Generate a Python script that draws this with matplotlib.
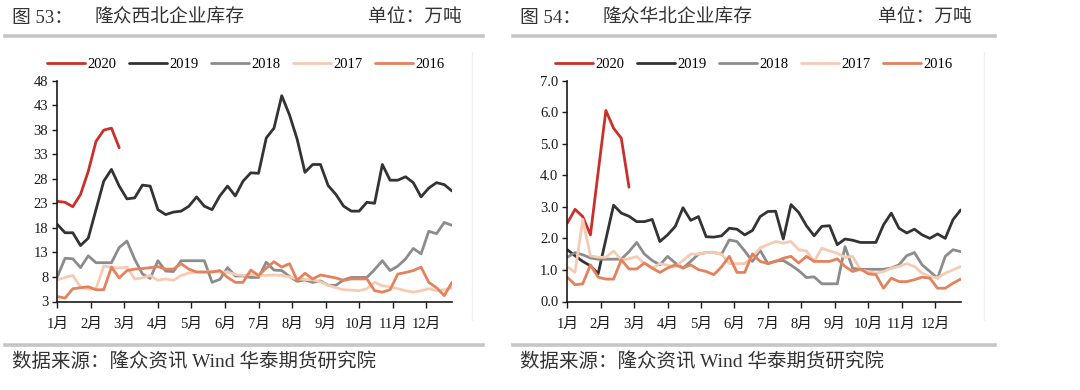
import numpy as np
import matplotlib
matplotlib.use('Agg')
import matplotlib.pyplot as plt
from matplotlib.lines import Line2D

plt.rcParams['font.family'] = ['Liberation Serif', 'Noto Sans CJK SC']

years = ['2020', '2019', '2018', '2017', '2016']
colors = ['#C9302C', '#333333', '#8C8C8C', '#F6CBB4', '#E3825C']
months = [f'{m}月' for m in range(1, 13)]

# 隆众西北企业库存 (万吨), weekly
xb_2020 = [23.4, 23.2, 22.3, 24.8, 29.5, 35.6, 37.9, 38.3, 34.3]
xb_2019 = [18.7, 17.0, 17.0, 14.4, 15.9, 21.7, 27.5, 29.9, 26.5, 23.9,
           24.1, 26.7, 26.5, 21.7, 20.7, 21.2, 21.4, 22.4, 24.3, 22.4,
           21.7, 24.5, 26.5, 24.5, 27.5, 29.2, 29.1, 36.3, 38.3, 44.9,
           41.0, 36.0, 29.3, 30.9, 30.9, 26.6, 24.8, 22.4, 21.4, 21.4,
           23.2, 23.0, 30.9, 27.7, 27.7, 28.4, 27.2, 24.3, 26.1, 27.2,
           26.8, 25.5]
xb_2018 = [8.0, 11.8, 11.7, 9.9, 12.3, 10.9, 10.9, 10.9, 14.0, 15.3,
           11.6, 8.6, 7.7, 11.3, 9.2, 9.1, 11.3, 11.3, 11.3, 11.3,
           6.9, 7.5, 9.9, 8.2, 8.2, 7.9, 7.9, 11.0, 9.4, 9.3,
           8.1, 7.1, 7.4, 6.9, 7.2, 6.3, 6.3, 7.4, 7.9, 7.9,
           7.9, 9.5, 11.3, 9.3, 10.2, 11.7, 13.8, 12.7, 17.3, 16.8,
           19.1, 18.5]
xb_2017 = [7.4, 7.9, 8.3, 6.0, 5.5, 5.6, 10.2, 10.0, 9.8, 10.0,
           7.6, 7.8, 8.3, 7.3, 7.6, 7.3, 8.3, 8.8, 9.0, 9.0,
           9.2, 9.0, 9.0, 8.5, 8.3, 8.5, 8.3, 8.3, 8.4, 8.3,
           8.0, 7.6, 7.5, 7.4, 7.0, 6.3, 5.8, 5.4, 5.3, 5.2,
           5.6, 6.9, 6.2, 6.0, 5.6, 5.2, 4.9, 5.2, 5.6, 5.2,
           5.4, 5.8]
xb_2016 = [4.0, 3.7, 5.6, 5.8, 6.0, 5.4, 5.4, 10.0, 7.8, 9.3,
           9.6, 9.7, 9.9, 10.1, 9.6, 9.6, 10.7, 9.6, 9.0, 9.0,
           9.0, 9.3, 7.9, 6.9, 6.9, 9.4, 8.3, 9.8, 11.1, 10.0,
           10.7, 7.3, 8.75, 7.6, 8.4, 8.1, 7.8, 7.3, 7.6, 7.6,
           7.6, 5.2, 4.9, 5.4, 8.6, 8.9, 9.3, 10.0, 6.9, 5.8,
           4.2, 6.9]

# 隆众华北企业库存 (万吨), weekly
hb_2020 = [2.48, 2.92, 2.69, 2.11, 4.1, 6.05, 5.49, 5.17, 3.62]
hb_2019 = [1.64, 1.45, 1.27, 1.13, 0.88, 1.97, 3.05, 2.8, 2.7, 2.53,
           2.53, 2.6, 1.9, 2.11, 2.38, 2.97, 2.57, 2.69, 2.05, 2.04,
           2.08, 2.32, 2.29, 2.11, 2.25, 2.69, 2.85, 2.86, 1.98, 3.07,
           2.82, 2.4, 2.08, 2.38, 2.4, 1.8, 1.98, 1.94, 1.87, 1.87,
           1.87, 2.43, 2.8, 2.32, 2.17, 2.29, 2.11, 2.0, 2.14, 2.0,
           2.59, 2.9]
hb_2018 = [1.4, 1.55, 1.48, 1.38, 1.34, 1.34, 1.34, 1.34, 1.58, 1.87,
           1.5, 1.3, 1.16, 1.43, 1.22, 1.06, 1.27, 1.5, 1.55, 1.55,
           1.5, 1.95, 1.9, 1.6, 1.27, 1.62, 1.2, 1.28, 1.3, 1.15,
           0.98, 0.76, 0.78, 0.56, 0.56, 0.56, 1.74, 1.05, 1.02, 1.02,
           1.02, 1.02, 1.06, 1.16, 1.45, 1.55, 1.16, 0.95, 0.74, 1.43,
           1.64, 1.58]
hb_2017 = [1.1, 0.92, 2.6, 1.45, 1.4, 1.4, 1.6, 1.32, 1.35, 1.42,
           1.2, 1.05, 1.2, 1.15, 1.1, 1.3, 1.5, 1.5, 1.55, 1.55,
           1.5, 1.2, 1.2, 1.2, 1.4, 1.7, 1.8, 1.9, 1.85, 1.9,
           1.64, 1.6, 1.27, 1.69, 1.6, 1.53, 1.4, 1.43, 1.0, 0.95,
           0.9, 0.95, 1.05, 1.11, 1.2, 1.11, 0.9, 0.79, 0.75, 0.9,
           1.0, 1.11]
hb_2016 = [0.77, 0.53, 0.56, 1.16, 0.77, 0.71, 0.71, 1.32, 1.03, 1.03,
           1.22, 1.06, 0.92, 1.06, 1.16, 1.06, 1.16, 1.01, 0.95, 0.85,
           1.1, 1.43, 0.92, 0.92, 1.51, 1.27, 1.2, 1.27, 1.37, 1.43,
           1.22, 1.43, 1.27, 1.27, 1.27, 1.35, 1.11, 0.95, 1.03, 0.88,
           0.85, 0.42, 0.74, 0.63, 0.63, 0.69, 0.77, 0.74, 0.42, 0.42,
           0.58, 0.71]

xb_ticks = [3, 8, 13, 18, 23, 28, 33, 38, 43, 48]
hb_ticks = [0, 1, 2, 3, 4, 5, 6, 7]

W, H = 1080, 390
fig = plt.figure(figsize=(W / 100, H / 100), dpi=100)
txt_c = '#333333'


def draw(rect, series, yticks, fmt, leg_x):
    ax = fig.add_axes(rect)
    for s, c, y in zip(series, colors, years):
        ax.plot(np.arange(len(s)), s, color=c, lw=2.0, label=y,
                solid_joinstyle='round', solid_capstyle='round')
    ax.set_xlim(0, 51)
    ax.set_ylim(yticks[0], yticks[-1])
    ax.set_yticks(yticks)
    ax.set_yticklabels([fmt.format(t) for t in yticks])
    ax.set_xticks(np.arange(12) * 52 / 12)
    ax.set_xticklabels(months)
    for sp in ['top', 'right']:
        ax.spines[sp].set_visible(False)
    for sp in ['left', 'bottom']:
        ax.spines[sp].set_linewidth(1.2)
        ax.spines[sp].set_color('#1a1a1a')
    ax.tick_params(axis='y', length=3.5, width=1, pad=3, labelsize=10.5, colors='#1a1a1a')
    ax.tick_params(axis='x', length=4, width=1, pad=8, labelsize=10.5, colors='#1a1a1a')
    ax.legend(ncol=5, loc='center left', bbox_to_anchor=(leg_x / W, 1 - 64 / H),
              bbox_transform=fig.transFigure, frameon=False, fontsize=10.5,
              handlelength=2.6, handletextpad=0.15, columnspacing=0.88,
              borderpad=0, borderaxespad=0)
    return ax


ax1 = draw([57.3 / W, (H - 301.5) / H, 394.7 / W, 221 / H],
           [xb_2020, xb_2019, xb_2018, xb_2017, xb_2016], xb_ticks, '{:d}', 47)
ax2 = draw([567.3 / W, (H - 301.5) / H, 393.4 / W, 221 / H],
           [hb_2020, hb_2019, hb_2018, hb_2017, hb_2016], hb_ticks, '{:.1f}', 555)

# headers and footers
ty = 1 - 18 / H
for x0, x1, num, title, unit_x in [(5, 483, '图 53：', '隆众西北企业库存', 462),
                                    (513, 995, '图 54：', '隆众华北企业库存', 972)]:
    fig.text((x0 + 7) / W, ty, num, fontsize=13.5, va='center', color=txt_c)
    fig.text((x0 + 90) / W, ty, title, fontsize=13.5, va='center', color=txt_c)
    fig.text(unit_x / W, ty, '单位：万吨', fontsize=13.5, va='center', ha='right', color=txt_c)
    fig.add_artist(Line2D([x0 / W, x1 / W], [1 - 36 / H] * 2, color='#C6C6C6', lw=2.6))
    fig.add_artist(Line2D([x0 / W, x1 / W], [1 - 345 / H] * 2, color='#C6C6C6', lw=2.6))
    fig.text((x0 + 7) / W, 1 - 362 / H, '数据来源：隆众资讯 Wind 华泰期货研究院',
             fontsize=14, va='center', color=txt_c)
    fig.add_artist(Line2D([(x1 - 11) / W] * 2, [1 - 320 / H, 1 - 52 / H], color='#F0F0F0', lw=1))

fig.savefig('out.png', dpi=100, facecolor='white')
